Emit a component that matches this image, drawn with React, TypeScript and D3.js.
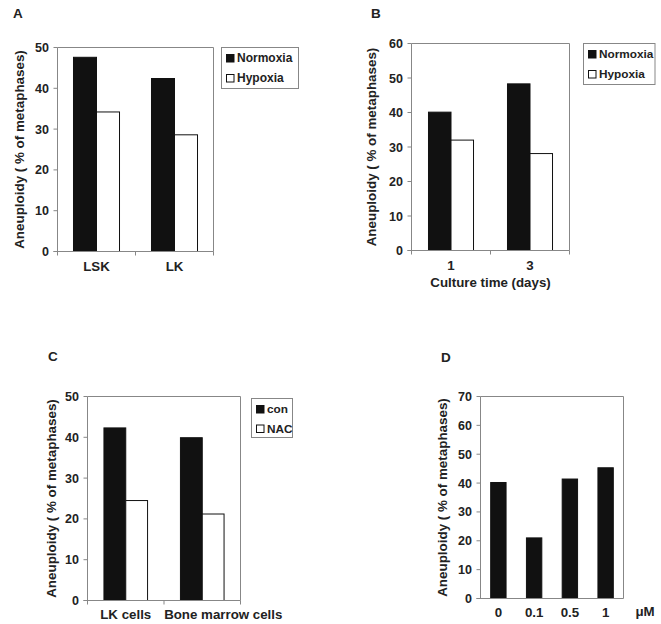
import React from "react";
import * as d3 from "d3";

// Panel A
const catsA = ["LSK", "LK"];
const normoxiaA = [47.6, 42.4];
const hypoxiaA = [34.2, 28.6];
// Panel B
const catsB = ["1", "3"];
const normoxiaB = [40.1, 48.3];
const hypoxiaB = [32.0, 28.1];
// Panel C
const catsC = ["LK cells", "Bone marrow cells"];
const conC = [42.3, 39.9];
const nacC = [24.5, 21.2];
// Panel D
const catsD = ["0", "0.1", "0.5", "1"];
const valuesD = [40.2, 21.0, 41.4, 45.3];

const ticksA = [0, 10, 20, 30, 40, 50];
const ticksB = [0, 10, 20, 30, 40, 50, 60];
const ticksC = [0, 10, 20, 30, 40, 50];
const ticksD = [0, 10, 20, 30, 40, 50, 60, 70];

const FONT = "'Liberation Sans', Arial, sans-serif";
const AXIS = "#878787";
const DARK = "#111111";
const YTITLE = "Aneuploidy ( % of metaphases)";

type Series = { name: string; values: number[]; fill: string };

type PanelProps = {
  letter: string;
  letterPos: [number, number];
  cats: string[];
  series: Series[];
  ticks: number[];
  left: number;
  right: number;
  top: number;
  bottom: number;
  padInner: number;
  yTitleX: number;
  xLabelY: number;
  xTicks: boolean;
  legend?: { x: number; y: number; w: number; h: number; rowGap: number; fontSize: number; spacing?: number };
  xTitle?: { text: string; y: number };
  extra?: { text: string; x: number; y: number };
  xFontSize?: number;
  labelShift?: number[];
};

function Panel(p: PanelProps) {
  const x = d3
    .scaleBand<string>()
    .domain(p.cats)
    .range([p.left, p.right])
    .paddingInner(p.padInner)
    .paddingOuter(p.padInner / 2);
  const sub = d3
    .scaleBand<string>()
    .domain(p.series.map((s) => s.name))
    .range([0, x.bandwidth()]);
  const maxT = p.ticks[p.ticks.length - 1];
  const y = d3.scaleLinear().domain([0, maxT]).range([p.bottom, p.top]);
  const step = x.step();
  const boundaries = d3.range(p.cats.length + 1).map((i) => p.left + i * step);

  return (
    <g>
      <text x={p.letterPos[0]} y={p.letterPos[1]} fontFamily={FONT} fontWeight="bold" fontSize={13.5} fill="#222">
        {p.letter}
      </text>
      {/* plot frame */}
      <line x1={p.left} x2={p.right} y1={p.top} y2={p.top} stroke={AXIS} strokeWidth={1} />
      <line x1={p.right} x2={p.right} y1={p.top} y2={p.bottom} stroke={AXIS} strokeWidth={1} />
      {/* bars */}
      {p.cats.map((c, i) =>
        p.series.map((s) => {
          const v = s.values[i];
          const bx = (x(c) as number) + (sub(s.name) as number);
          return (
            <rect
              key={c + s.name}
              x={bx}
              y={y(v)}
              width={sub.bandwidth()}
              height={p.bottom - y(v)}
              fill={s.fill}
              stroke="#111"
              strokeWidth={1}
            />
          );
        })
      )}
      {/* y axis */}
      <line x1={p.left} x2={p.left} y1={p.top} y2={p.bottom} stroke={AXIS} strokeWidth={1} />
      {p.ticks.map((t) => (
        <g key={t}>
          <line x1={p.left - 4} x2={p.left} y1={y(t)} y2={y(t)} stroke={AXIS} strokeWidth={1} />
          <text
            x={p.left - 8.5}
            y={y(t)}
            dy="0.36em"
            textAnchor="end"
            fontFamily={FONT}
            fontWeight="bold"
            fontSize={12.5}
            fill="#222"
          >
            {t}
          </text>
        </g>
      ))}
      {/* x axis */}
      <line x1={p.left - 4} x2={p.right} y1={p.bottom} y2={p.bottom} stroke={AXIS} strokeWidth={1} />
      {p.xTicks &&
        boundaries.map((bx, i) => (
          <line key={i} x1={bx} x2={bx} y1={p.bottom} y2={p.bottom + 4} stroke={AXIS} strokeWidth={1} />
        ))}
      {p.cats.map((c, i) => (
        <text
          key={c}
          x={(x(c) as number) + x.bandwidth() / 2 + (p.labelShift ? p.labelShift[i] : 0)}
          y={p.xLabelY}
          textAnchor="middle"
          fontFamily={FONT}
          fontWeight="bold"
          fontSize={p.xFontSize ?? 13.3}
          fill="#222"
        >
          {c}
        </text>
      ))}
      {p.xTitle && (
        <text
          x={(p.left + p.right) / 2}
          y={p.xTitle.y}
          textAnchor="middle"
          fontFamily={FONT}
          fontWeight="bold"
          fontSize={13.3}
          fill="#222"
        >
          {p.xTitle.text}
        </text>
      )}
      {p.extra && (
        <text x={p.extra.x} y={p.extra.y} textAnchor="middle" fontFamily={FONT} fontWeight="bold" fontSize={13.3} fill="#222">
          {p.extra.text}
        </text>
      )}
      {/* y title */}
      <text
        transform={`translate(${p.yTitleX},${(p.top + p.bottom) / 2}) rotate(-90)`}
        textAnchor="middle"
        dy="0.35em"
        fontFamily={FONT}
        fontWeight="bold"
        fontSize={13.4}
        fill="#222"
      >
        {YTITLE}
      </text>
      {/* legend */}
      {p.legend && (
        <g>
          <rect
            x={p.legend.x}
            y={p.legend.y}
            width={p.legend.w}
            height={p.legend.h}
            fill="white"
            stroke={AXIS}
            strokeWidth={1}
          />
          {p.series.map((s, i) => {
            const baseY = p.legend!.y + 14.5 + i * p.legend!.rowGap;
            return (
              <g key={s.name}>
                <rect
                  x={p.legend!.x + 5}
                  y={baseY - 7.5}
                  width={7.5}
                  height={7.5}
                  fill={s.fill}
                  stroke="#111"
                  strokeWidth={1}
                />
                <text
                  x={p.legend!.x + 15.5}
                  y={baseY}
                  fontFamily={FONT}
                  fontWeight="bold"
                  fontSize={p.legend!.fontSize}
                  letterSpacing={p.legend!.spacing ?? 0}
                  fill="#222"
                >
                  {s.name}
                </text>
              </g>
            );
          })}
        </g>
      )}
    </g>
  );
}

export default function App() {
  return (
    <svg
      width={661}
      height={624}
      style={{ position: "absolute", left: 0, top: 0, background: "white" }}
    >
      <rect width={661} height={624} fill="white" />
      <Panel
        letter="A"
        letterPos={[13, 18]}
        cats={catsA}
        series={[
          { name: "Normoxia", values: normoxiaA, fill: DARK },
          { name: "Hypoxia", values: hypoxiaA, fill: "white" },
        ]}
        ticks={ticksA}
        left={57.5}
        right={213.5}
        top={47.5}
        bottom={251.5}
        padInner={0.41}
        yTitleX={19.5}
        xLabelY={271}
        xTicks={true}
        legend={{ x: 221.5, y: 47.5, w: 77, h: 41, rowGap: 20, fontSize: 12 }}
      />
      <Panel
        letter="B"
        letterPos={[371, 18]}
        cats={catsB}
        series={[
          { name: "Normoxia", values: normoxiaB, fill: DARK },
          { name: "Hypoxia", values: hypoxiaB, fill: "white" },
        ]}
        ticks={ticksB}
        left={411.5}
        right={569.5}
        top={43.5}
        bottom={250.5}
        padInner={0.43}
        yTitleX={371}
        xLabelY={269.5}
        xTicks={true}
        xTitle={{ text: "Culture time (days)", y: 287 }}
        legend={{ x: 583.5, y: 43.5, w: 71.5, h: 41, rowGap: 20, fontSize: 11.8, spacing: 0 }}
      />
      <Panel
        letter="C"
        letterPos={[48, 361]}
        cats={catsC}
        series={[
          { name: "con", values: conC, fill: DARK },
          { name: "NAC", values: nacC, fill: "white" },
        ]}
        ticks={ticksC}
        left={87.5}
        right={240.5}
        top={396.5}
        bottom={600.5}
        padInner={0.43}
        yTitleX={51}
        xLabelY={618.5}
        xTicks={true}
        labelShift={[0, 21]}
        legend={{ x: 251.5, y: 398.5, w: 41, h: 39, rowGap: 19.5, fontSize: 11.8 }}
      />
      <Panel
        letter="D"
        letterPos={[441, 362]}
        cats={catsD}
        series={[{ name: "value", values: valuesD, fill: DARK }]}
        ticks={ticksD}
        left={480.5}
        right={623.5}
        top={396.5}
        bottom={598.5}
        padInner={0.57}
        yTitleX={442}
        xLabelY={617}
        xTicks={false}
        extra={{ text: "μM", x: 645, y: 616 }}
      />
    </svg>
  );
}
